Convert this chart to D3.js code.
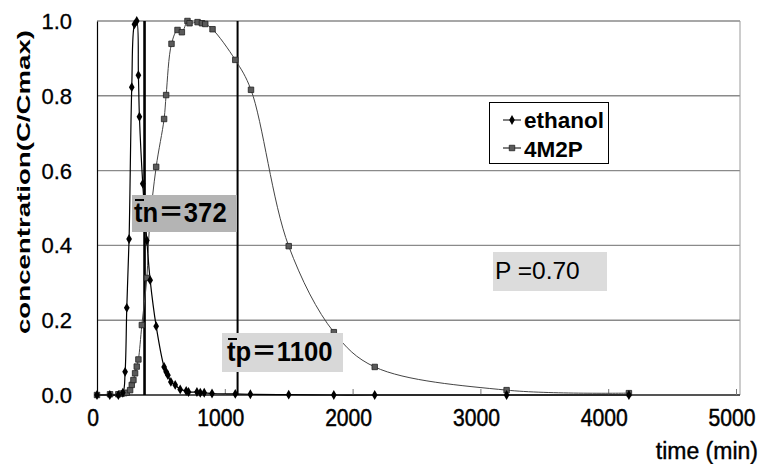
<!DOCTYPE html>
<html>
<head>
<meta charset="utf-8">
<script src="https://cdn.jsdelivr.net/npm/d3@7"></script>
<style>
  html, body { margin: 0; padding: 0; background: #fff; }
  svg { display: block; }
</style>
</head>
<body>
<svg id="chart" width="761" height="464"></svg>
<script>
// ---- data ----
const ethanolTime = [0, 100, 167, 202, 220, 233, 251, 272, 293, 311, 324, 332, 358, 390, 416, 463, 525, 541, 555, 578, 612, 651, 698, 716, 782, 808, 839, 900, 1082, 1200, 1500, 1853, 2173, 3205, 4162];
const ethanolConc = [0, 0, 0, 0.006, 0.062, 0.233, 0.417, 0.823, 0.991, 1.0, 0.855, 0.744, 0.565, 0.413, 0.307, 0.184, 0.075, 0.062, 0.053, 0.035, 0.027, 0.015, 0.011, 0.008, 0.008, 0.006, 0.006, 0.004, 0.003, 0.002, 0.001, 0, 0, 0, 0];

const m2pTime = [0, 102, 167, 194, 214, 233, 259, 272, 285, 298, 311, 324, 351, 390, 410, 463, 525, 541, 583, 630, 664, 708, 724, 787, 821, 847, 904, 1082, 1205, 1500, 1853, 2173, 3205, 4162];
const m2pConc = [0, 0.002, 0.002, 0.004, 0.005, 0.006, 0.013, 0.027, 0.040, 0.058, 0.076, 0.095, 0.187, 0.313, 0.446, 0.610, 0.738, 0.802, 0.939, 0.976, 0.970, 1.0, 0.994, 0.997, 0.994, 0.992, 0.978, 0.896, 0.816, 0.398, 0.168, 0.075, 0.013, 0.005];

const seriesNames = ["ethanol", "4M2P"];
const xTicks = [0, 1000, 2000, 3000, 4000, 5000];
const yTicks = [0.0, 0.2, 0.4, 0.6, 0.8, 1.0];
const tn = 372;     // mean residence time, ethanol
const tp = 1100;    // mean residence time, 4M2P
const pValue = "0.70";

// ---- layout ----
const svg = d3.select("#chart");
const L = 97, R = 736, T = 21, B = 395;
const x = d3.scaleLinear().domain([0, 5000]).range([L, R]);
const y = d3.scaleLinear().domain([0, 1]).range([B, T]);
const sansFont = "'Liberation Sans', Arial, 'Noto Sans CJK JP', sans-serif";

// gridlines
svg.append("g").selectAll("line").data(yTicks.filter(d => d > 0)).join("line")
  .attr("x1", L).attr("x2", R + 4)
  .attr("y1", d => y(d)).attr("y2", d => y(d))
  .attr("stroke", "#8a8a8a").attr("stroke-width", 1.4);

// right frame
svg.append("line").attr("x1", R + 4).attr("x2", R + 4).attr("y1", T).attr("y2", B)
  .attr("stroke", "#9a9a9a").attr("stroke-width", 1);

// x axis
const xAxis = d3.axisBottom(x).tickValues(xTicks).tickSize(-6).tickFormat("");
const gx = svg.append("g").attr("transform", `translate(0,${B})`).call(xAxis);
gx.select(".domain").attr("stroke", "#555").attr("stroke-width", 2).attr("d", `M${L},0H${R + 4}`);
gx.selectAll(".tick line").attr("stroke", "#777").attr("stroke-width", 1);

// x tick labels (condensed look)
svg.append("g").selectAll("text").data(xTicks).join("text")
  .attr("transform", d => `translate(${x(d) - 4},426) scale(0.88,1)`)
  .attr("text-anchor", "middle")
  .attr("font-family", sansFont).attr("font-size", 24).attr("fill", "#000")
  .attr("stroke", "#000").attr("stroke-width", 0.5)
  .text(d => d);

// y axis
const yAxis = d3.axisLeft(y).tickValues(yTicks).tickSize(0).tickFormat("");
const gy = svg.append("g").attr("transform", `translate(${L},0)`).call(yAxis);
gy.select(".domain").attr("stroke", "#000").attr("stroke-width", 1.2);

svg.append("g").selectAll("text").data(yTicks).join("text")
  .attr("x", 72).attr("y", d => y(d) + 8)
  .attr("text-anchor", "end")
  .attr("font-family", sansFont).attr("font-size", 22).attr("fill", "#000")
  .attr("stroke", "#000").attr("stroke-width", 0.3)
  .text(d => d.toFixed(1));

// axis titles
svg.append("text")
  .attr("transform", `translate(30,182) rotate(-90)`)
  .attr("text-anchor", "middle")
  .attr("font-family", sansFont).attr("font-size", 19).attr("font-weight", "bold")
  .attr("textLength", 304).attr("lengthAdjust", "spacingAndGlyphs")
  .text("concentration(C/Cmax)");

svg.append("text")
  .attr("transform", `translate(758,459)`)
  .attr("text-anchor", "end")
  .attr("font-family", sansFont).attr("font-size", 23)
  .attr("stroke", "#000").attr("stroke-width", 0.4)
  .text("time (min)");

// ---- series ----
const ethanol = ethanolTime.map((t, i) => ({ t, c: ethanolConc[i] }));
const m2p = m2pTime.map((t, i) => ({ t, c: m2pConc[i] }));

const line = d3.line().x(d => x(d.t)).y(d => y(d.c)).curve(d3.curveCatmullRom.alpha(0.5));

// vertical mean-residence-time lines
svg.append("line").attr("x1", x(tn)).attr("x2", x(tn)).attr("y1", T).attr("y2", B)
  .attr("stroke", "#000").attr("stroke-width", 2.6);
svg.append("line").attr("x1", x(tp)).attr("x2", x(tp)).attr("y1", T).attr("y2", B)
  .attr("stroke", "#000").attr("stroke-width", 2);

svg.append("path").datum(m2p).attr("d", line)
  .attr("fill", "none").attr("stroke", "#444").attr("stroke-width", 1);
svg.append("path").datum(ethanol).attr("d", line)
  .attr("fill", "none").attr("stroke", "#000").attr("stroke-width", 1.2);

const sq = d3.symbol().type(d3.symbolSquare).size(30);
const dm = d3.symbol().type(d3.symbolDiamond).size(28);

svg.append("g").selectAll("path").data(m2p).join("path")
  .attr("transform", d => `translate(${x(d.t)},${y(d.c)})`)
  .attr("d", sq).attr("fill", "#5a5a5a").attr("stroke", "#222").attr("stroke-width", 0.8);
svg.append("g").selectAll("path").data(ethanol).join("path")
  .attr("transform", d => `translate(${x(d.t)},${y(d.c)})`)
  .attr("d", dm).attr("fill", "#000");

// ---- annotation boxes ----
function label(bx, by, bw, bh, fill, tx, ty, parts, size, sx, bold, macron) {
  svg.append("rect").attr("x", bx).attr("y", by).attr("width", bw).attr("height", bh).attr("fill", fill);
  const t = svg.append("text")
    .attr("transform", `translate(${tx},${ty}) scale(${sx},1)`)
    .attr("font-family", sansFont).attr("font-size", size)
    .attr("font-weight", bold ? "bold" : "normal").attr("fill", "#000");
  parts.forEach(p => t.append("tspan").attr("font-family", p.f || sansFont).text(p.s));
  if (macron) {
    svg.append("line").attr("x1", tx + 1).attr("x2", tx + 10).attr("y1", ty - 22).attr("y2", ty - 22)
      .attr("stroke", "#000").attr("stroke-width", 2);
  }
}
const cjk = "'Noto Sans CJK JP', sans-serif";
label(132, 195, 105, 37, "#b4b4b4", 134, 222,
  [{ s: "tn" }, { s: "＝", f: cjk }, { s: String(tn) }], 27, 0.95, true, true);
label(222, 333, 121, 39, "#d8d8d8", 227, 361,
  [{ s: "tp" }, { s: "＝", f: cjk }, { s: String(tp) }], 27, 0.95, true, true);
label(493, 252, 114, 39, "#dcdcdc", 495, 279,
  [{ s: "P =" + pValue }], 24.5, 1, false, false);

// ---- legend ----
const lg = svg.append("g");
lg.append("rect").attr("x", 489.5).attr("y", 102.5).attr("width", 119).attr("height", 61)
  .attr("fill", "#fff").attr("stroke", "#000").attr("stroke-width", 1);
const legendRows = [
  { name: seriesNames[0], sym: dm, fill: "#000", stroke: "none", ly: 120, ty: 128 },
  { name: seriesNames[1], sym: sq, fill: "#5a5a5a", stroke: "#222", ly: 148, ty: 157 }
];
legendRows.forEach(r => {
  lg.append("line").attr("x1", 503).attr("x2", 521).attr("y1", r.ly).attr("y2", r.ly)
    .attr("stroke", "#000").attr("stroke-width", 1);
  lg.append("path").attr("transform", `translate(512,${r.ly})`).attr("d", r.sym)
    .attr("fill", r.fill).attr("stroke", r.stroke).attr("stroke-width", 0.8);
  lg.append("text").attr("x", 524).attr("y", r.ty)
    .attr("font-family", sansFont).attr("font-size", 22.5).attr("font-weight", "bold")
    .text(r.name);
});
</script>
</body>
</html>
